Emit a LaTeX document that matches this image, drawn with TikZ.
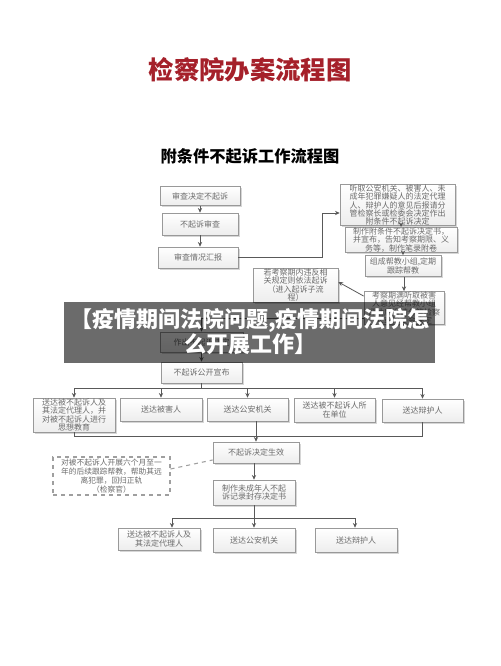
\documentclass[tikz,border=0pt]{standalone}
\usepackage{fontspec}
\setmainfont{Noto Sans CJK SC}
\usetikzlibrary{arrows.meta,shadows}
\definecolor{titlered}{RGB}{165,32,42}
\begin{document}
\begin{tikzpicture}[x=0.75pt,y=-0.75pt,
  box/.style={draw=gray!80, line width=0.5pt, top color=white, bottom color=gray!14,
    drop shadow={shadow xshift=1.2pt, shadow yshift=-1.2pt, fill=gray!70, opacity=0.45},
    font=\fontsize{6}{6.1}\selectfont, text=black!58, align=center, inner sep=0.5pt},
  sz/.style 2 args={minimum width=#1*0.75pt, minimum height=#2*0.75pt},
  dbox/.style={draw=gray!75, dashed, line width=0.8pt, align=center, inner sep=1pt,
    font=\fontsize{5.8}{6.6}\selectfont, text=black!58},
  ln/.style={draw=black!65, line width=0.6pt},
  arr/.style={draw=black!65, line width=0.6pt, -{Stealth[length=3.5pt,width=3.2pt]}}
]
\useasboundingbox (0,0) rectangle (500,666);
\fill[white] (0,0) rectangle (500,666);

\node[font=\fontsize{19}{19}\selectfont\bfseries, text=titlered] (title) at (250,70) {检察院办案流程图};
\node[font=\fontsize{12.2}{12.2}\selectfont\bfseries] (sub) at (250,156) {附条件不起诉工作流程图};

% left column
\node[box, sz={80}{19}] (n1) at (200,196) {审查决定不起诉};
\node[box, sz={76}{22}] (n2) at (200,224) {不起诉审查};
\node[box, sz={80}{21}] (n3) at (198,257.5) {审查情况汇报};

% right column
\node[box, sz={115}{40}] (r1) at (397.5,205) {听取公安机关、被害人、未\\成年犯罪嫌疑人的法定代理\\人、辩护人的意见后报请分\\管检察长或检委会决定作出\\附条件不起诉决定};
\node[box, sz={112}{22}] (r2) at (401,240) {制作附条件不起诉决定书，\\并宣布，告知考察期限、义\\务等，制作笔录附卷};
\node[box, sz={76}{21}] (r3) at (403,266) {组成帮教小组,定期\\跟踪帮教};
\node[box, sz={80}{32}] (r4) at (404,308) {考察期满听取被害\\人意见经帮教小组\\评估后报请分管检察\\长或检委会决定};
\node[box, sz={85}{34}] (l4) at (295.5,285) {若考察期内违反相\\关规定则依法起诉\\（进入起诉子流\\程）};

\node[box, sz={83}{20}] (h1) at (201.5,342) {作出不起诉决定};
\node[box, sz={81}{21}] (p1) at (201.5,372.5) {不起诉公开宣布};

% row of five
\node[box, sz={82}{34}] (A) at (74,415) {送达被不起诉人及\\其法定代理人，并\\对被不起诉人进行\\思想教育};
\node[box, sz={82}{23}] (B) at (161,409.5) {送达被害人};
\node[box, sz={81}{23}] (C) at (247.5,409.5) {送达公安机关};
\node[box, sz={81}{24}] (D) at (334.5,410) {送达被不起诉人所\\在单位};
\node[box, sz={81}{23}] (E) at (422.5,410.5) {送达辩护人};

\node[box, sz={86}{21}] (G) at (256,452.5) {不起诉决定生效};
\node[dbox, minimum width=117*0.75pt, minimum height=38*0.75pt] (DB) at (111.5,476) {对被不起诉人开展六个月至一\\年的后续跟踪帮教，帮助其远\\离犯罪，回归正轨\\（检察官）};
\node[box, sz={82}{25}] (M) at (254,492.5) {制作未成年人不起\\诉记录封存决定书};

\node[box, sz={82}{22}] (Q1) at (159,539) {送达被不起诉人及\\其法定代理人};
\node[box, sz={82}{24}] (Q2) at (254,540) {送达公安机关};
\node[box, sz={82}{24}] (Q3) at (356,540) {送达辩护人};

% connectors
\draw[arr] (n1.south) -- (n1.south |- n2.north);
\draw[arr] (n2.south) -- (n2.south |- n3.north);
\coordinate (k1) at (322,213);
\draw[arr] (n3.east) -| (k1) -- (k1 -| r1.west);
\draw[arr] (r2.north |- r1.south) -- (r2.north);
\draw[arr] (r3.north |- r2.south) -- (r3.north);
\draw[arr] (r4.north |- r3.south) -- (r4.north);
\draw[arr] ([yshift=-3.75pt]r4.north west) -- ([yshift=2.25pt]l4.east);
\coordinate (k2) at (201.5,318);
\draw[arr] (k2 -| r4.west) -- (k2) -- (h1.north);
\draw[arr] (h1.south) -- (p1.north);

\coordinate (bar1) at (201.5,388);
\draw[ln] (p1.south) -- (bar1);
\draw[ln] (A.north |- bar1) -- (E.north |- bar1);
\foreach \X in {A,B,C,D,E} \draw[arr] (\X.north |- bar1) -- (\X.north);

\coordinate (bar2) at (256,436);
\draw[ln] (A.south) -- (A.south |- bar2) -- (E.south |- bar2) -- (E.south);
\draw[ln] (bar2 |- C.south) -- (bar2);
\draw[arr] (bar2) -- (G.north);
\draw[dashed, draw=gray!75, line width=0.8pt] ([yshift=5.25pt]DB.east) -- ([yshift=-5.6pt]G.west);
\draw[arr] (M.north |- G.south) -- (M.north);

\coordinate (bar3) at (254,518);
\coordinate (c1) at (172,518);
\coordinate (c3) at (355,518);
\draw[ln] (M.south) -- (bar3);
\draw[ln] (c1) -- (c3);
\draw[arr] (c1) -- (c1 |- Q1.north);
\draw[arr] (bar3) -- (Q2.north);
\draw[arr] (c3) -- (c3 |- Q3.north);

% banner
\fill[black, opacity=0.58] (64,302) rectangle (435,363);
\node[text=white, font=\fontsize{16.5}{16.5}\selectfont\bfseries, align=center] (ban) at (250,332) {【疫情期间法院问题,疫情期间法院怎\\么开展工作】};
\end{tikzpicture}
\end{document}
